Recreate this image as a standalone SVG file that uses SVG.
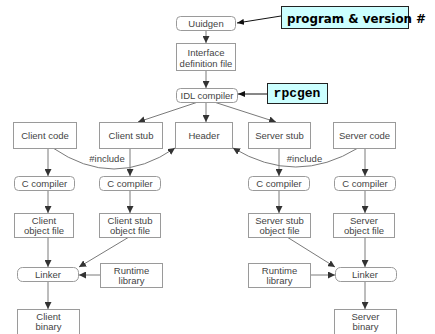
<svg xmlns="http://www.w3.org/2000/svg" width="435" height="334" viewBox="0 0 435 334">
  <style>
    .box { fill: #ffffff; stroke: #9a9a9a; stroke-width: 1; }
    .lbl { font-family: "Liberation Sans", Arial, sans-serif; font-size: 9.5px; fill: #444444; text-anchor: middle; }
    .edge { fill: none; stroke: #7a7a7a; stroke-width: 1; marker-end: url(#ah); }
    .callout { fill: #ccffff; stroke: #222222; stroke-width: 1; }
    .callout-edge { fill: none; stroke: #111111; stroke-width: 1; marker-end: url(#ahk); }
    .note { font-family: "DejaVu Sans", Verdana, sans-serif; font-weight: bold; font-size: 13px; fill: #000000; }
    .code { font-family: "Liberation Mono", "Courier New", monospace; font-weight: bold; font-size: 13px; fill: #000000; text-anchor: middle; }
  </style>
  <defs>
    <marker id="ah" markerUnits="userSpaceOnUse" markerWidth="7" markerHeight="7" refX="7" refY="3.5" orient="auto">
      <path d="M0,0 L7,3.5 L0,7 z" fill="#333333"/>
    </marker>
    <marker id="ahk" markerUnits="userSpaceOnUse" markerWidth="7" markerHeight="6" refX="7" refY="3" orient="auto">
      <path d="M0,0 L7,3 L0,6 z" fill="#111111"/>
    </marker>
  </defs>

  <rect width="435" height="334" fill="#ffffff"/>

  <!-- connectors -->
  <g id="connectors">
    <path class="edge" d="M206,30 L206,43"/>
    <path class="edge" d="M206,70 L206,88"/>
    <path class="edge" d="M198,102 L138,122"/>
    <path class="edge" d="M206,102 L206,122"/>
    <path class="edge" d="M214,102 L276,122"/>
    <path class="edge" d="M53,148 Q114,190 175,148"/>
    <path class="edge" d="M358,148 Q296,186 233,148"/>
    <path class="edge" d="M48,148 L48,176"/>
    <path class="edge" d="M48,190 L48,213"/>
    <path class="edge" d="M48,237 L48,267"/>
    <path class="edge" d="M48,282 L48,309"/>
    <path class="edge" d="M130,148 L130,176"/>
    <path class="edge" d="M130,190 L130,213"/>
    <path class="edge" d="M129,237 L79,267"/>
    <path class="edge" d="M100,275 L79,275"/>
    <path class="edge" d="M279,148 L279,176"/>
    <path class="edge" d="M279,190 L279,213"/>
    <path class="edge" d="M287,237 L335,267"/>
    <path class="edge" d="M311,275 L335,275"/>
    <path class="edge" d="M365,148 L365,176"/>
    <path class="edge" d="M365,190 L365,213"/>
    <path class="edge" d="M365,237 L365,267"/>
    <path class="edge" d="M365,282 L365,309"/>
    <path class="callout-edge" d="M281,16 L237,23"/>
    <path class="callout-edge" d="M267,94 L238,94"/>
    <text class="lbl" x="107" y="161.5">#include</text>
    <text class="lbl" x="304.5" y="161.5">#include</text>
  </g>

  <!-- nodes -->
  <g id="uuidgen">
    <rect class="box" x="176.5" y="16.5" width="59" height="14" rx="4"/>
    <text class="lbl" x="206" y="26.6">Uuidgen</text>
  </g>
  <g id="idl-file">
    <rect class="box" x="176.5" y="43.5" width="59" height="27"/>
    <text class="lbl" x="206" y="56">Interface</text>
    <text class="lbl" x="206" y="67">definition file</text>
  </g>
  <g id="idl-compiler">
    <rect class="box" x="176.5" y="88.5" width="61" height="14" rx="4"/>
    <text class="lbl" x="207" y="98.6">IDL compiler</text>
  </g>

  <g id="program-version-note">
    <rect class="callout" x="281.5" y="6.5" width="127" height="22"/>
    <text class="note" x="287" y="22.5" textLength="139" lengthAdjust="spacingAndGlyphs">program &amp; version #</text>
  </g>
  <g id="rpcgen-note">
    <rect class="callout" x="267.5" y="83.5" width="60" height="20"/>
    <text class="code" x="297" y="97">rpcgen</text>
  </g>

  <g id="client-code">
    <rect class="box" x="13.5" y="122.5" width="63" height="26"/>
    <text class="lbl" x="45" y="138.5">Client code</text>
  </g>
  <g id="client-stub">
    <rect class="box" x="99.5" y="122.5" width="63" height="26"/>
    <text class="lbl" x="131" y="138.5">Client stub</text>
  </g>
  <g id="header">
    <rect class="box" x="175.5" y="122.5" width="57" height="26"/>
    <text class="lbl" x="204" y="138.5">Header</text>
  </g>
  <g id="server-stub">
    <rect class="box" x="248.5" y="122.5" width="62" height="26"/>
    <text class="lbl" x="279.5" y="138.5">Server stub</text>
  </g>
  <g id="server-code">
    <rect class="box" x="333.5" y="122.5" width="62" height="26"/>
    <text class="lbl" x="364.5" y="138.5">Server code</text>
  </g>

  <g id="client-cc">
    <rect class="box" x="14.5" y="176.5" width="60" height="14" rx="4"/>
    <text class="lbl" x="44.5" y="186.6">C compiler</text>
  </g>
  <g id="client-stub-cc">
    <rect class="box" x="99.5" y="176.5" width="61" height="14" rx="4"/>
    <text class="lbl" x="130" y="186.6">C compiler</text>
  </g>
  <g id="server-stub-cc">
    <rect class="box" x="248.5" y="176.5" width="61" height="14" rx="4"/>
    <text class="lbl" x="279" y="186.6">C compiler</text>
  </g>
  <g id="server-cc">
    <rect class="box" x="334.5" y="176.5" width="61" height="14" rx="4"/>
    <text class="lbl" x="365" y="186.6">C compiler</text>
  </g>

  <g id="client-obj">
    <rect class="box" x="14.5" y="213.5" width="59" height="24"/>
    <text class="lbl" x="44" y="223.5">Client</text>
    <text class="lbl" x="44" y="234">object file</text>
  </g>
  <g id="client-stub-obj">
    <rect class="box" x="99.5" y="213.5" width="61" height="24"/>
    <text class="lbl" x="130" y="223.5">Client stub</text>
    <text class="lbl" x="130" y="234">object file</text>
  </g>
  <g id="server-stub-obj">
    <rect class="box" x="248.5" y="213.5" width="62" height="24"/>
    <text class="lbl" x="279.5" y="223.5">Server stub</text>
    <text class="lbl" x="279.5" y="234">object file</text>
  </g>
  <g id="server-obj">
    <rect class="box" x="333.5" y="213.5" width="61" height="24"/>
    <text class="lbl" x="364" y="223.5">Server</text>
    <text class="lbl" x="364" y="234">object file</text>
  </g>

  <g id="client-linker">
    <rect class="box" x="17.5" y="267.5" width="61" height="14" rx="5"/>
    <text class="lbl" x="48" y="277.6">Linker</text>
  </g>
  <g id="client-runtime">
    <rect class="box" x="100.5" y="263.5" width="62" height="24"/>
    <text class="lbl" x="131.5" y="273.5">Runtime</text>
    <text class="lbl" x="131.5" y="284">library</text>
  </g>
  <g id="server-runtime">
    <rect class="box" x="248.5" y="263.5" width="62" height="24"/>
    <text class="lbl" x="279.5" y="273.5">Runtime</text>
    <text class="lbl" x="279.5" y="284">library</text>
  </g>
  <g id="server-linker">
    <rect class="box" x="335.5" y="267.5" width="61" height="14" rx="5"/>
    <text class="lbl" x="365" y="277.6">Linker</text>
  </g>

  <g id="client-binary">
    <rect class="box" x="17.5" y="309.5" width="62" height="25"/>
    <text class="lbl" x="48.5" y="319.5">Client</text>
    <text class="lbl" x="48.5" y="330">binary</text>
  </g>
  <g id="server-binary">
    <rect class="box" x="334.5" y="309.5" width="62" height="25"/>
    <text class="lbl" x="365.5" y="319.5">Server</text>
    <text class="lbl" x="365.5" y="330">binary</text>
  </g>
</svg>
